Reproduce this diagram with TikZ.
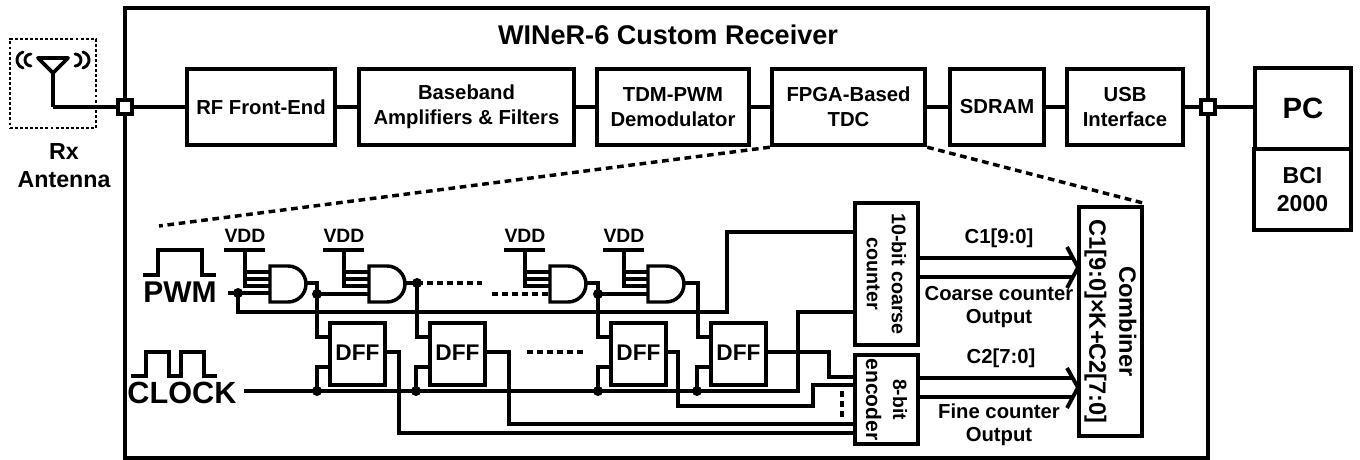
\documentclass[tikz,border=0pt]{standalone}
\usepackage{fontspec}
\setmainfont{Liberation Sans}
\tikzset{
  x=0.75pt,y=-0.75pt,
  wire/.style={draw=black,line width=2.9pt,line join=miter},
  cwire/.style={draw=black,line width=2.5pt,line join=miter},
  blockbox/.style={draw=black,line width=3.3pt,fill=white,align=center,font=\bfseries\fontsize{15.2}{18.75}\selectfont,inner sep=0pt},
  rotbox/.style={draw=black,line width=3pt,fill=white,align=center,rotate=-90,inner sep=0pt},
  dffbox/.style={draw=black,line width=2.6pt,fill=white,font=\bfseries\fontsize{17}{20}\selectfont,inner sep=0pt,minimum width=41.25pt,minimum height=46.5pt},
  lab/.style={font=\bfseries\fontsize{15.2}{17.25}\selectfont,align=center,inner sep=0pt},
  big/.style={font=\bfseries\fontsize{22.5}{26}\selectfont,inner sep=0pt},
  dot/.style={circle,fill=black,inner sep=0pt,minimum size=7.5pt},
  port/.style={draw=black,line width=3pt,fill=white,inner sep=0pt,minimum size=10.5pt},
  zoomline/.style={draw=black,line width=2.6pt,dash pattern=on 5pt off 3.5pt},
  dashwire/.style={draw=black,line width=2.6pt,dash pattern=on 4.5pt off 3pt},
  arcs/.style={draw=black,line width=2.2pt,line cap=round},
}
\newcommand{\blockat}[6]{\node[blockbox,minimum width=#4*0.75pt-#2*0.75pt,minimum height=#5*0.75pt-#3*0.75pt] (#1) at ({(#2+#4)/2},{(#3+#5)/2}) {#6};}
\begin{document}
\begin{tikzpicture}
\useasboundingbox (0,0) rectangle (1360,460);
\fill[white] (0,0) rectangle (1360,460);
% outer box
\node[draw=black,line width=3.3pt,minimum width=812.25pt,minimum height=337.5pt,inner sep=0pt] (outer) at (666.5,233) {};
\node[font=\bfseries\fontsize{20.3}{24}\selectfont,inner sep=0pt] (title) at (668,35) {WINeR-6 Custom Receiver};
% antenna
\node[draw=black,line width=1.7pt,dash pattern=on 2.2pt off 1.6pt,minimum width=64.5pt,minimum height=66.75pt,inner sep=0pt] (antbox) at (53,83.5) {};
\coordinate (anttip) at (53,73);
\coordinate (antbend) at (53,107);
\draw[wire,line join=round] (38,58) -- (68,58) -- (anttip) -- cycle;
\draw[wire] (anttip) -- (antbend);
\draw[arcs] (23,52) arc[start angle=106,end angle=254,radius=6.25pt];
\draw[arcs] (31,54) arc[start angle=90,end angle=270,radius=4.5pt];
\draw[arcs] (83,52) arc[start angle=74,end angle=-74,radius=6.25pt];
\draw[arcs] (75,54) arc[start angle=90,end angle=-90,radius=4.5pt];
\node[font=\bfseries\fontsize{17.4}{21}\selectfont,align=center,inner sep=0pt] (antlab) at (64,166) {Rx\\Antenna};
% top blocks
\blockat{rf}{187}{69}{335}{145}{RF Front-End}
\blockat{bb}{359}{69}{574}{145}{Baseband\\Amplifiers \& Filters}
\blockat{tdm}{597}{69}{749}{145}{TDM-PWM\\Demodulator}
\blockat{fpga}{772}{69}{925}{145}{FPGA-Based\\TDC}
\blockat{sdram}{950}{69}{1044}{145}{SDRAM}
\blockat{usb}{1067}{69}{1183}{145}{USB\\Interface}
\node[port] (pl) at (125,107) {};
\node[port] (pr) at (1208,107) {};
\coordinate (pcy) at (0,107);
\node[draw=black,line width=3pt,minimum width=72pt,minimum height=60.75pt,inner sep=0pt,font=\bfseries\fontsize{22}{24}\selectfont] (pc) at (1303,108.5) {PC};
\node[draw=black,line width=3.6pt,minimum width=72.75pt,minimum height=60.75pt,inner sep=0pt,align=center,font=\bfseries\fontsize{17.3}{21}\selectfont] (bci) at (1302.5,189.5) {BCI\\2000};
\draw[wire] (antbend) -- (pl);
\draw[wire] (pl) -- (rf);
\draw[wire] (rf) -- (bb);
\draw[wire] (bb) -- (tdm);
\draw[wire] (tdm) -- (fpga);
\draw[wire] (fpga) -- (sdram);
\draw[wire] (sdram) -- (usb);
\draw[wire] (usb) -- (pr);
\draw[wire] (pr) -- (pc.west|-pcy);
% zoom lines
\coordinate (z1) at (159,226);
\coordinate (z2) at (1143,203);
\draw[zoomline] (fpga.south west) -- (z1);
\draw[zoomline] (fpga.south east) -- (z2);
% waveforms
\draw[cwire] (143,275) -- (158,275) -- (158,250) -- (202,250) -- (202,275) -- (216,275);
\draw[cwire] (131,376) -- (146,376) -- (146,352) -- (169,352) -- (169,376) -- (181,376) -- (181,352) -- (204,352) -- (204,376) -- (217,376);
\node[big] (pwm) at (180,292) {PWM};
\node[big,font=\bfseries\fontsize{23}{26}\selectfont] (clk) at (182,393) {CLOCK};
% DFFs
\coordinate (oy) at (0,352);
\coordinate (dy) at (0,337);
\coordinate (cy) at (0,367);
\coordinate (ck) at (0,391);
\node[dffbox] (f1) at (357.5,354) {};
\node[dffbox] (f2) at (457.5,354) {};
\node[dffbox] (f3) at (638.5,354) {};
\node[dffbox] (f4) at (738.5,354) {};
% counter, encoder, combiner
\node[rotbox,minimum width=106.5pt,minimum height=47.25pt,font=\bfseries\fontsize{14.8}{18.75}\selectfont] (cnt) at (886.5,274) {10-bit coarse\\counter};
\node[rotbox,minimum width=66.75pt,minimum height=47.25pt,font=\bfseries\fontsize{15.5}{20.25}\selectfont] (enc) at (886.5,399.5) {\fontsize{14.5}{20.25}\selectfont 8-bit\\\fontsize{15.8}{20.25}\selectfont encoder};
\node[rotbox,line width=2.7pt,minimum width=171.75pt,minimum height=47.25pt,font=\bfseries\fontsize{17.7}{22.5}\selectfont] (comb) at (1110.5,321.5) {Combiner\\C1[9:0]×K+C2[7:0]};
% circuit wires
\coordinate (pwmin) at (228,293);
\coordinate (pwmdot) at (238,293);
\coordinate (busturn) at (238,312);
\coordinate (busend) at (727,312);
\coordinate (cctop) at (727,232);
\coordinate (clkin) at (244,391);
\coordinate (clkend) at (798,391);
\coordinate (cnt2) at (798,312);
\draw[cwire] (pwmin) -- (270,293);
\draw[cwire] (pwmdot) -- (busturn) -- (busend) -- (cctop) -- (cnt.south|-cctop);
\draw[cwire] (clkin) -- (clkend) -- (cnt2) -- (cnt.south|-cnt2);
% dashes
\draw[dashwire] (417,283) -- (482,283);
\draw[dashwire] (492,294) -- (550,294);
\draw[dashwire] (527,352) -- (587,352);
\draw[dashwire] (842,391) -- (842,419);
% DFF outputs
\coordinate (w1) at (399,352); \coordinate (w1b) at (399,433);
\coordinate (w2) at (509,352); \coordinate (w2b) at (509,424);
\coordinate (w3) at (678,352); \coordinate (w3b) at (678,406); \coordinate (w3c) at (813,406); \coordinate (w3d) at (813,385);
\coordinate (w4) at (829,352); \coordinate (w4b) at (829,377);
\draw[cwire] (f1.east|-oy) -- (w1) -- (w1b) -- (enc.south|-w1b);
\draw[cwire] (f2.east|-oy) -- (w2) -- (w2b) -- (enc.south|-w2b);
\draw[cwire] (f3.east|-oy) -- (w3) -- (w3b) -- (w3c) -- (w3d) -- (enc.south|-w3d);
\draw[cwire] (f4.east|-oy) -- (w4) -- (w4b) -- (enc.south|-w4b);
% VDD and gates
\foreach \n/\gx/\vx in {1/270/245,2/369/344,3/550/525,4/648/624}{
  \draw[cwire] (\vx-21,250) -- (\vx+20,250);
  \draw[cwire] (\vx,250) -- (\vx,286) -- (\gx,286);
  \draw[cwire] (\vx,272) -- (\gx,272);
  \draw[cwire] (\vx,279) -- (\gx,279);
  \node[font=\bfseries\fontsize{14.5}{16}\selectfont,inner sep=0pt] (v\n) at (\vx,236) {VDD};
  \draw[line width=2.6pt,fill=white] (\gx,266) -- (\gx+18,266) arc[start angle=90,end angle=-90,radius=13.5pt] -- (\gx,302) -- cycle;
  \coordinate (g\n) at (\gx+36,283);
}
% gate outputs to DFFs
\coordinate (t1) at (317,283); \coordinate (t2) at (417,283); \coordinate (t3) at (598,283); \coordinate (t4) at (698,283);
\draw[cwire] (g1) -- (t1) -- (t1|-dy) -- (f1.west|-dy);
\draw[cwire] (g2) -- (t2) -- (t2|-dy) -- (f2.west|-dy);
\draw[cwire] (g3) -- (t3) -- (t3|-dy) -- (f3.west|-dy);
\draw[cwire] (g4) -- (t4) -- (t4|-dy) -- (f4.west|-dy);
\draw[cwire] (317,294) -- (369,294);
\draw[cwire] (598,294) -- (648,294);
% clock stubs
\coordinate (k1) at (317,391); \coordinate (k2) at (416,391); \coordinate (k3) at (598,391); \coordinate (k4) at (697,391);
\draw[cwire] (f1.west|-cy) -- (k1|-cy) -- (k1);
\draw[cwire] (f2.west|-cy) -- (k2|-cy) -- (k2);
\draw[cwire] (f3.west|-cy) -- (k3|-cy) -- (k3);
\draw[cwire] (f4.west|-cy) -- (k4|-cy) -- (k4);
\node[dot] (d1) at (238,293) {};
\node[dot] (d2) at (317,294) {};
\node[dot] (d3) at (417,283) {};
\node[dot] (d4) at (598,294) {};
\node[dot] (d5) at (k1) {};
\node[dot] (d6) at (k2) {};
\node[dot] (d7) at (k3) {};
\node[dot] (d8) at (k4) {};
% DFF labels
\foreach \f in {f1,f2,f3,f4}{\node[font=\bfseries\fontsize{17}{20}\selectfont,inner sep=0pt] at ([yshift=0.75pt]\f.center) {DFF};}
% buses
\coordinate (b1) at (0,258); \coordinate (b2) at (0,277); \coordinate (b3) at (0,378); \coordinate (b4) at (0,397);
\coordinate (tipa) at (1078,267.5); \coordinate (tipb) at (1078,387.5);
\draw[wire] (cnt.north|-b1) -- (1073,258);
\draw[wire] (cnt.north|-b2) -- (1073,277);
\draw[wire] (enc.north|-b3) -- (1073,378);
\draw[wire] (enc.north|-b4) -- (1073,397);
\draw[wire] (1067,247) -- (tipa) -- (1067,288);
\draw[wire] (1067,368) -- (tipb) -- (1067,408);
\node[lab] (c1) at (999,238) {C1[9:0]};
\node[lab] (cc) at (999,307.5) {Coarse counter\\Output};
\node[lab] (c2) at (1001,358) {C2[7:0]};
\node[lab] (fc) at (999,425) {Fine counter\\Output};
\end{tikzpicture}
\end{document}
